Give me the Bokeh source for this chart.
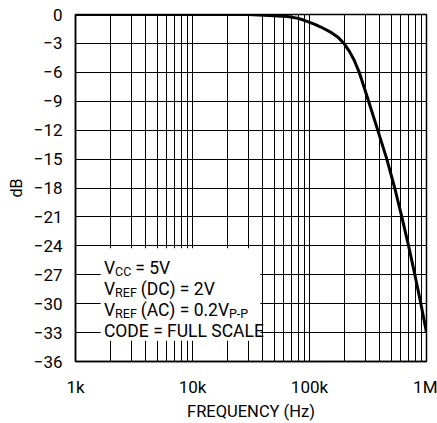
from bokeh.plotting import figure
from bokeh.models import Range1d, FixedTicker, BoxAnnotation, Label
from bokeh.embed import file_html
from bokeh.resources import INLINE

# ---- data ----
freq_hz = [1e3, 10e3, 30e3, 45e3, 65e3, 80e3, 90e3, 110e3, 125e3, 150e3,
           175e3, 197e3, 220e3, 241e3, 266e3, 290e3, 320e3, 383e3, 458e3,
           535e3, 615e3, 703e3, 795e3, 895e3, 1e6]
gain_db = [0, 0, 0, -0.1, -0.2, -0.4, -0.6, -1.0, -1.3, -1.8,
           -2.35, -3.0, -3.85, -4.75, -6.0, -7.4, -9.0, -12.0, -15.0,
           -18.0, -21.0, -24.0, -27.0, -30.0, -33.0]

x_ticks = [1e3, 1e4, 1e5, 1e6]
x_tick_labels = ["1k", "10k", "100k", "1M"]
y_ticks = [-36, -33, -30, -27, -24, -21, -18, -15, -12, -9, -6, -3, 0]
y_tick_labels = ["\u221236", "\u221233", "\u221230", "\u221227", "\u221224", "\u221221",
                 "\u221218", "\u221215", "\u221212", "\u22129", "\u22126", "\u22123", "0"]

note_lines = [
    [("V", "main"), ("CC", "sub"), ("= 5V", "main")],
    [("V", "main"), ("REF", "sub"), ("(DC) = 2V", "main")],
    [("V", "main"), ("REF", "sub"), ("(AC) = 0.2V", "main"), ("P-P", "sub")],
    [("CODE = FULL SCALE", "main")],
]

FONT = "Roboto"
MAIN_PX = 17.5
SUB_PX = 12.5

# Roboto advance widths (units per em = 2048)
ADV = {' ': 507, '(': 700, ')': 712, '-': 553, '.': 539, '=': 1110,
       'A': 1336, 'C': 1302, 'D': 1310, 'E': 1136, 'F': 1105, 'L': 1078,
       'O': 1377, 'P': 1293, 'R': 1261, 'S': 1217, 'U': 1307, 'V': 1304}
for d in "0123456789":
    ADV[d] = 1151


def text_width(s, px):
    return sum(ADV.get(c, 1150) for c in s) / 2048.0 * px


p = figure(width=437, height=423, x_axis_type="log",
           x_range=Range1d(1e3, 1e6), y_range=Range1d(-36, 0),
           output_backend="svg", toolbar_location=None,
           min_border_left=75, min_border_right=11,
           min_border_top=14, min_border_bottom=58)

p.background_fill_color = "white"
p.border_fill_color = "white"
p.outline_line_color = "black"
p.outline_line_width = 1.5

# axes
p.xaxis.ticker = FixedTicker(ticks=x_ticks,
                             minor_ticks=[m * d for d in (1e3, 1e4, 1e5) for m in range(2, 10)])
p.xaxis.major_label_overrides = {int(t): l for t, l in zip(x_ticks, x_tick_labels)}
p.yaxis.ticker = FixedTicker(ticks=y_ticks)
p.yaxis.major_label_overrides = {t: l for t, l in zip(y_ticks, y_tick_labels)}

for ax in (p.xaxis[0], p.yaxis[0]):
    ax.major_tick_out = 0
    ax.major_tick_in = 0
    ax.minor_tick_out = 0
    ax.minor_tick_in = 0
    ax.axis_line_color = "black"
    ax.axis_line_width = 1.5
    ax.major_label_text_font = FONT
    ax.major_label_text_font_size = "17px"
    ax.major_label_text_color = "black"
    ax.axis_label_text_font = FONT
    ax.axis_label_text_font_style = "normal"
    ax.axis_label_text_color = "black"

p.xaxis.axis_label = "FREQUENCY (Hz)"
p.xaxis.axis_label_text_font_size = "16.5px"
p.xaxis.major_label_standoff = 15
p.xaxis.axis_label_standoff = 2
p.yaxis.axis_label = "dB"
p.yaxis.axis_label_text_font_size = "16px"
p.yaxis.major_label_standoff = 13
p.yaxis.axis_label_standoff = 5

# grid
p.xgrid.grid_line_color = "black"
p.xgrid.grid_line_width = 1
p.xgrid.minor_grid_line_color = "black"
p.xgrid.minor_grid_line_width = 1
p.ygrid.grid_line_color = "black"
p.ygrid.grid_line_width = 1

# curve
p.line(freq_hz, gain_db, line_color="black", line_width=3)

# annotation box
box = BoxAnnotation(left=1.64e3, right=38e3, top=-24.25, bottom=-33.85,
                    fill_color="white", fill_alpha=1.0, line_alpha=0)
p.add_layout(box)

x0 = 1.75e3
baselines = [-26.35, -28.5, -30.65, -32.85]
space = text_width(" ", MAIN_PX)
for line, yb in zip(note_lines, baselines):
    dx = 0.0
    prev = None
    for txt, kind in line:
        px = MAIN_PX if kind == "main" else SUB_PX
        if prev == "sub" and kind == "main":
            dx += space
        lab = Label(x=x0, y=yb, text=txt, x_offset=dx,
                    y_offset=0 if kind == "main" else -3.5,
                    text_font=FONT, text_font_size=f"{px}px",
                    text_color="black", text_baseline="alphabetic",
                    text_align="left")
        p.add_layout(lab)
        dx += text_width(txt, px)
        prev = kind

open("out.html", "w").write(file_html(p, INLINE))
